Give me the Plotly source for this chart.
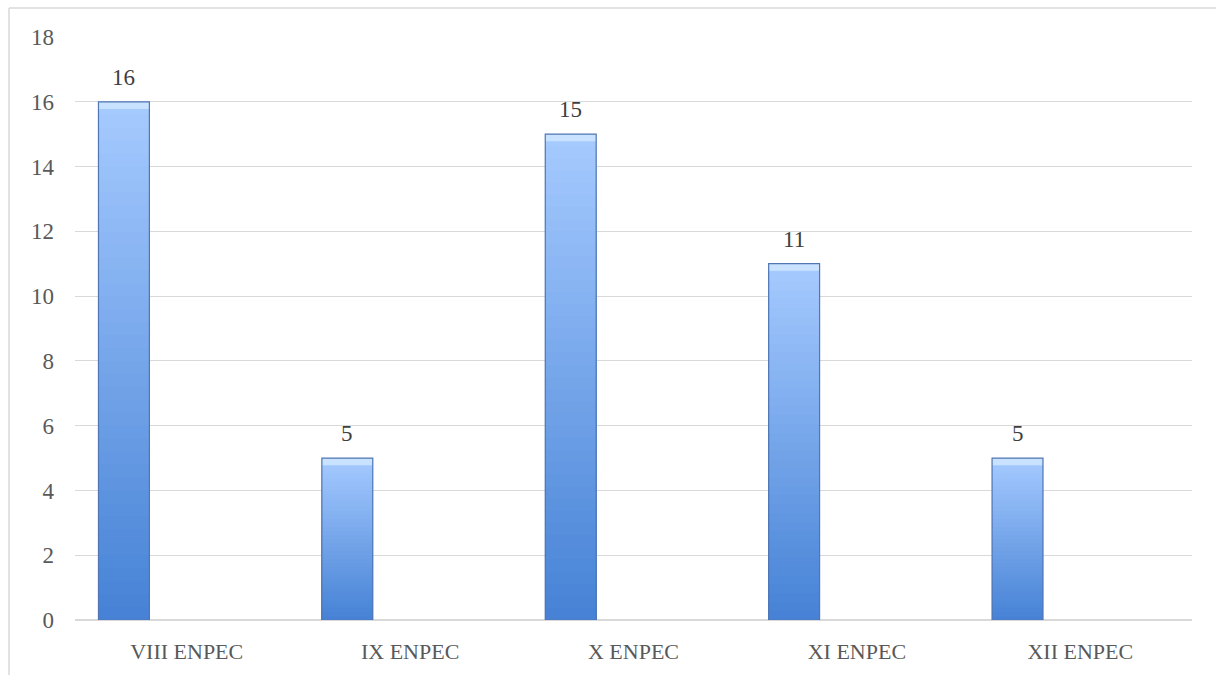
import plotly.graph_objects as go
import numpy as np

categories = ["VIII ENPEC", "IX ENPEC", "X ENPEC", "XI ENPEC", "XII ENPEC"]
values = [16, 5, 15, 11, 5]
y_ticks = [0, 2, 4, 6, 8, 10, 12, 14, 16, 18]

BAR_OFFSET = -0.395
BAR_WIDTH = 0.228
N_SEG = 40
bottom_rgb = np.array([70, 130, 214])
top_rgb = np.array([166, 203, 255])

fig = go.Figure()
vals = np.array(values, dtype=float)

# gradient fill: overlapping bars from zero, tallest (lightest) drawn first
for i in range(N_SEG):
    frac = (N_SEG - i) / N_SEG
    t = frac - 0.5 / N_SEG
    c = bottom_rgb + (top_rgb - bottom_rgb) * t
    fig.add_trace(go.Bar(
        x=categories, y=vals * frac,
        offset=BAR_OFFSET, width=BAR_WIDTH,
        marker=dict(color="rgb(%d,%d,%d)" % tuple(c.astype(int)), line=dict(width=0)),
        hoverinfo="skip", showlegend=False,
    ))

# top bevel highlight
bevel = 0.22
fig.add_trace(go.Bar(
    x=categories, y=[bevel] * len(values), base=vals - bevel,
    offset=BAR_OFFSET, width=BAR_WIDTH,
    marker=dict(color="rgb(200,226,255)", line=dict(width=0)),
    hoverinfo="skip", showlegend=False,
))

# main data trace: outline + values
fig.add_trace(go.Bar(
    x=categories, y=values,
    offset=BAR_OFFSET, width=BAR_WIDTH,
    marker=dict(color="rgba(0,0,0,0)", line=dict(color="rgb(80,118,180)", width=1.2)),
    showlegend=False, name="",
))

center_shift = (BAR_OFFSET + BAR_WIDTH / 2) * 223.4
for c, v in zip(categories, values):
    fig.add_annotation(
        x=c, y=v, text=str(v), showarrow=False, yanchor="bottom",
        xshift=center_shift, yshift=10,
        font=dict(family="Liberation Serif", size=23, color="#404040"),
    )

# outer frame (top and left edges)
fig.add_shape(type="line", xref="paper", yref="paper",
              x0=(9 - 75) / 1117, x1=(1216 - 75) / 1117, y0=(675 - 8 - 55) / 583, y1=(675 - 8 - 55) / 583,
              line=dict(color="#d9d9d9", width=1.5))
fig.add_shape(type="line", xref="paper", yref="paper",
              x0=(9 - 75) / 1117, x1=(9 - 75) / 1117, y0=(675 - 8 - 55) / 583, y1=-55 / 583,
              line=dict(color="#d9d9d9", width=1.5))

fig.update_layout(
    width=1216, height=675,
    margin=dict(l=75, r=24, t=37, b=55),
    paper_bgcolor="white", plot_bgcolor="white",
    barmode="overlay",
    font=dict(family="Liberation Serif", size=22, color="#595959"),
    xaxis=dict(showgrid=False, showline=False, ticks="", ticklabelstandoff=16,
               tickfont=dict(family="Liberation Serif", size=22, color="#595959")),
    yaxis=dict(range=[0, 18], tickvals=y_ticks, showgrid=True, gridcolor="#d9d9d9", gridwidth=1,
               zeroline=True, zerolinecolor="#d9d9d9", zerolinewidth=1.5,
               showline=False, ticks="", ticklabelstandoff=20,
               tickfont=dict(family="Liberation Serif", size=23, color="#595959")),
)

fig.write_html("out.html")
